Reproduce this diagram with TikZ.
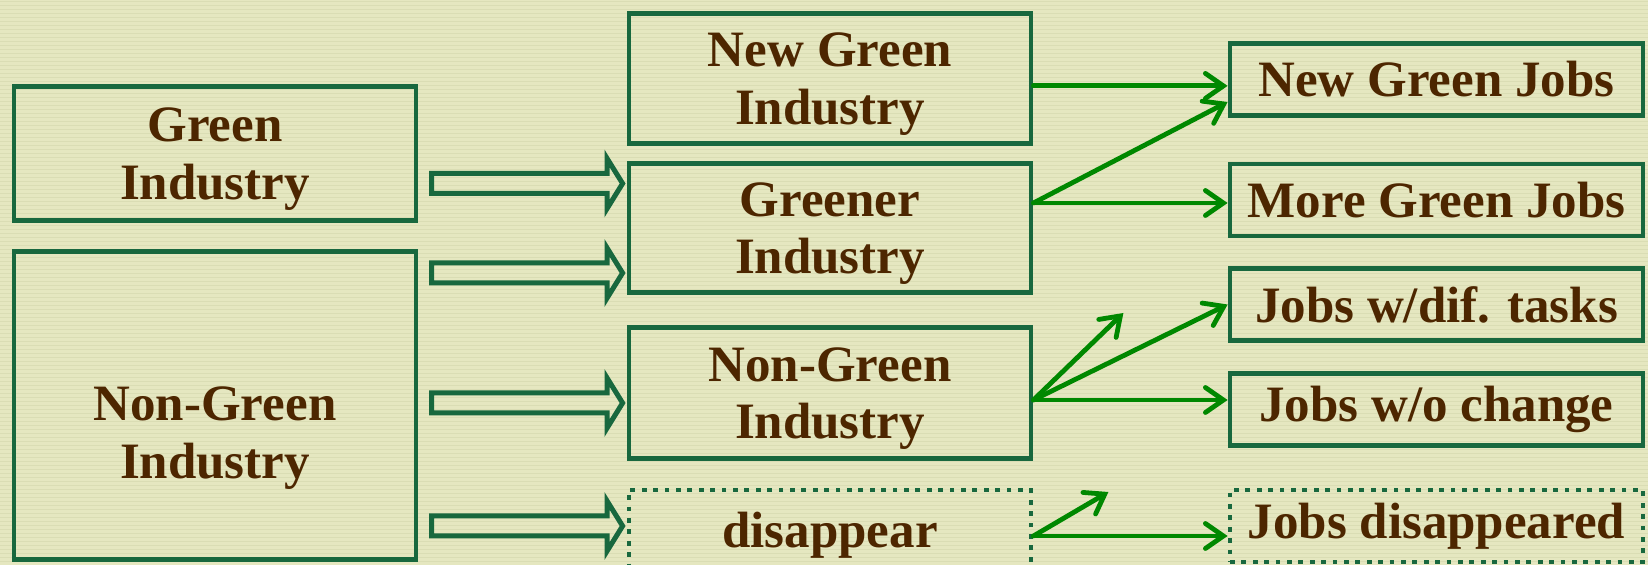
\documentclass[tikz,border=0pt]{standalone}
\usepackage{fontspec}
\setmainfont{Liberation Serif}
\usetikzlibrary{arrows.meta,positioning,calc}

\definecolor{boxgreen}{RGB}{24,104,62}
\definecolor{arrowgreen}{RGB}{0,136,0}
\definecolor{textbrown}{RGB}{77,38,0}
\definecolor{paper}{RGB}{229,231,192}
\definecolor{stripe}{RGB}{218,221,180}

\tikzset{
  boxtext/.style={text=textbrown, align=center, inner sep=0pt,
    font=\fontsize{25.5}{28.8}\selectfont\bfseries},
  indbox/.style={boxtext, draw=boxgreen, line width=2.4pt, minimum width=201pt, text depth=0pt},
  jobbox/.style={boxtext, draw=boxgreen, line width=2.4pt, minimum width=206.5pt, minimum height=36pt},
  gone/.style={dash pattern=on 2.4pt off 3.3pt},
  conn/.style={draw=arrowgreen, line width=2.4pt, line cap=round,
    -{Straight Barb[length=9pt,width=12.5pt,line cap=round]}},
  hollowarrow/.style={draw=boxgreen, line width=2.5pt, line join=miter},
}

\begin{document}
\begin{tikzpicture}[x=0.5pt,y=-0.5pt]
	% background
	\useasboundingbox (0,0) rectangle (1648,565);
	\fill[paper] (0,0) rectangle (1648,565);
	\foreach \s in {2,6,...,565}
		\draw[stripe, line width=0.5pt] (0,\s) -- (1648,\s);

	% industries before
	\node[indbox, minimum height=67pt] (gi) at (215,153.5) {Green\\Industry};
	\node[indbox, minimum height=154pt] (ngl) at (215,405.5) {};
	\node[boxtext] (nglt) at (215,438) {Non-Green\\Industry};

	% industries after
	\node[indbox, minimum height=65pt] (ngi) at (830,78.5) {New Green\\Industry};
	\node[indbox, minimum height=64.5pt] (gri) at (830,228) {Greener\\Industry};
	\node[indbox, minimum height=65.5pt] (ngm) at (830,393) {Non-Green\\Industry};
	\node[indbox, gone, minimum height=40pt] (dis) at (830,530) {disappear};

	% jobs
	\node[jobbox] (ngj) at (1436.5,79.5) {New Green Jobs};
	\node[jobbox] (mgj) at (1436.5,200) {More Green Jobs};
	\node[jobbox] (jdt) at (1436.5,304.5) {Jobs w/dif. tasks};
	\node[jobbox] (jwo) at (1436.5,409.5) {Jobs w/o change};
	\node[jobbox, gone] (jdis) at (1436.5,526) {Jobs disappeared};

	% hollow arrows
	\foreach \c/\dst in {183.5/gri,273/gri,403/ngm,526/dis}
		\draw[hollowarrow] (\dst.west |- 0,\c) ++(-4,0)
			-- ++(-15.5,-25) -- ++(0,15) -- ++(-175.5,0) -- ++(0,20)
			-- ++(175.5,0) -- ++(0,15) -- cycle;

	% green arrows
	\coordinate (ns) at ([yshift=-3.7pt]ngi.east);
	\coordinate (gs) at ([yshift=12.5pt]gri.east);
	\coordinate (ms) at ([yshift=-3.5pt]ngm.east);
	\coordinate (ds) at ([yshift=-3pt]dis.east);
	\coordinate (mup) at ($(ms)+(90,-87)$);
	\coordinate (dup) at ($(ds)+(75,-44)$);
	\draw[conn] (ns) -- (ns -| ngj.west);
	\draw[conn] (gs) -- ([yshift=-11.25pt]ngj.west);
	\draw[conn] (gs) -- (gs -| mgj.west);
	\draw[conn] (ms) -- (mup);
	\draw[conn] (ms) -- (jdt.west);
	\draw[conn] (ms) -- (ms -| jwo.west);
	\draw[conn] (ds) -- (dup);
	\draw[conn] (ds) -- (ds -| jdis.west);
\end{tikzpicture}
\end{document}
